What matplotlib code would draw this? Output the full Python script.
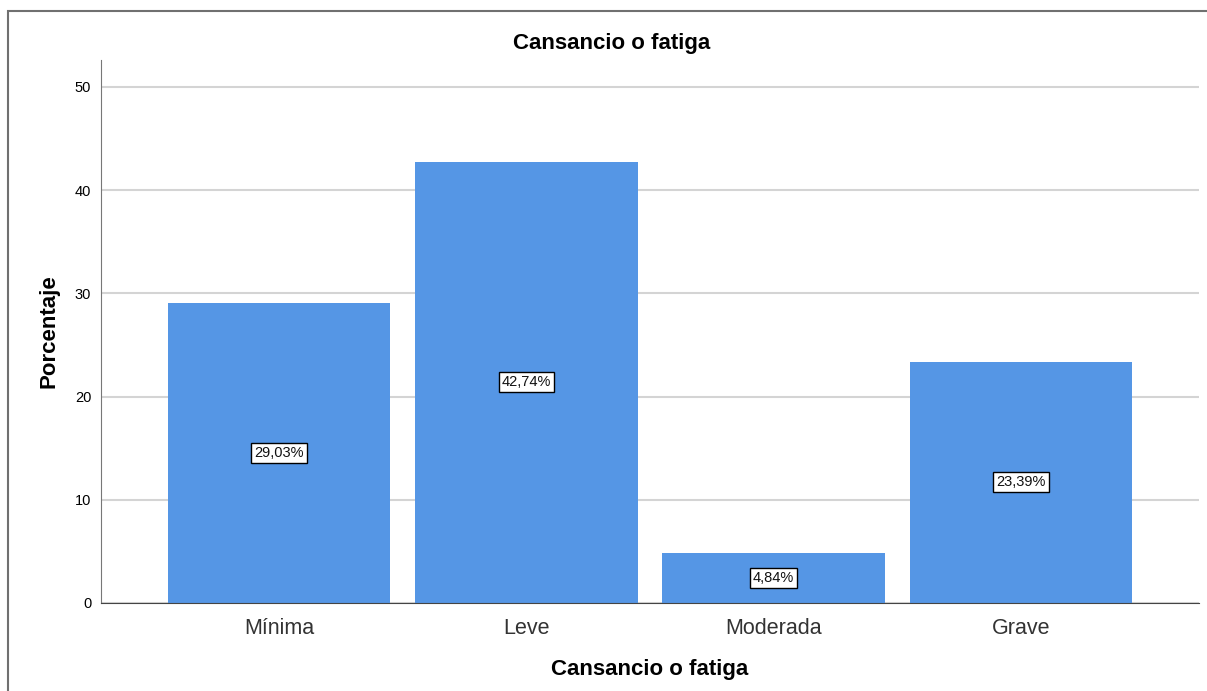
import matplotlib
matplotlib.use("Agg")
import matplotlib.pyplot as plt
from matplotlib.patches import Rectangle

plt.rcParams['font.family'] = ['Liberation Sans', 'DejaVu Sans']

categorias = ["Mínima", "Leve", "Moderada", "Grave"]
porcentajes = [29.03, 42.74, 4.84, 23.39]
etiquetas = ["29,03%", "42,74%", "4,84%", "23,39%"]
yticks = [0, 10, 20, 30, 40, 50]

fig = plt.figure(figsize=(12.07, 6.91), dpi=100)
ax = fig.add_axes([0.0837, 0.1274, 0.9097, 0.7858])

# marco exterior (como la salida de SPSS)
fig.patches.append(Rectangle((8 / 1207, -0.05), 1.2, 1 - 11 / 691 + 0.05,
                             transform=fig.transFigure, fill=False,
                             edgecolor="#707070", linewidth=1.5))

x = range(len(categorias))
ax.bar(x, porcentajes, width=0.9, color="#5596e5", zorder=2)

for i, (v, t) in enumerate(zip(porcentajes, etiquetas)):
    ax.text(i, v / 2, t, ha="center", va="center", fontsize=10.5, zorder=3,
            color="#111111",
            bbox=dict(boxstyle="square,pad=0.2", facecolor="white",
                      edgecolor="black", linewidth=1))

ax.set_xlim(-0.72, 3.72)
ax.set_ylim(0, 52.6)
ax.set_yticks(yticks)
ax.set_xticks(list(x))
ax.set_xticklabels(categorias, fontsize=15.5, color="#333333")
ax.tick_params(axis="y", length=0, labelsize=10.5, pad=7)
ax.tick_params(axis="x", length=0, pad=11)
ax.yaxis.grid(True, color="#d4d4d4", linewidth=1.5, zorder=0)
ax.set_axisbelow(True)

for s in ["top", "right"]:
    ax.spines[s].set_visible(False)
ax.spines["left"].set_color("#777777")
ax.spines["bottom"].set_color("#444444")

fig.text(612 / 1207, 1 - 43 / 691, "Cansancio o fatiga", fontsize=16,
         fontweight="bold", ha="center", va="center")
ax.set_xlabel("Cansancio o fatiga", fontsize=16, fontweight="bold", labelpad=14)
ax.set_ylabel("Porcentaje", fontsize=16, fontweight="bold", labelpad=11)

fig.savefig("out.png", dpi=100)
